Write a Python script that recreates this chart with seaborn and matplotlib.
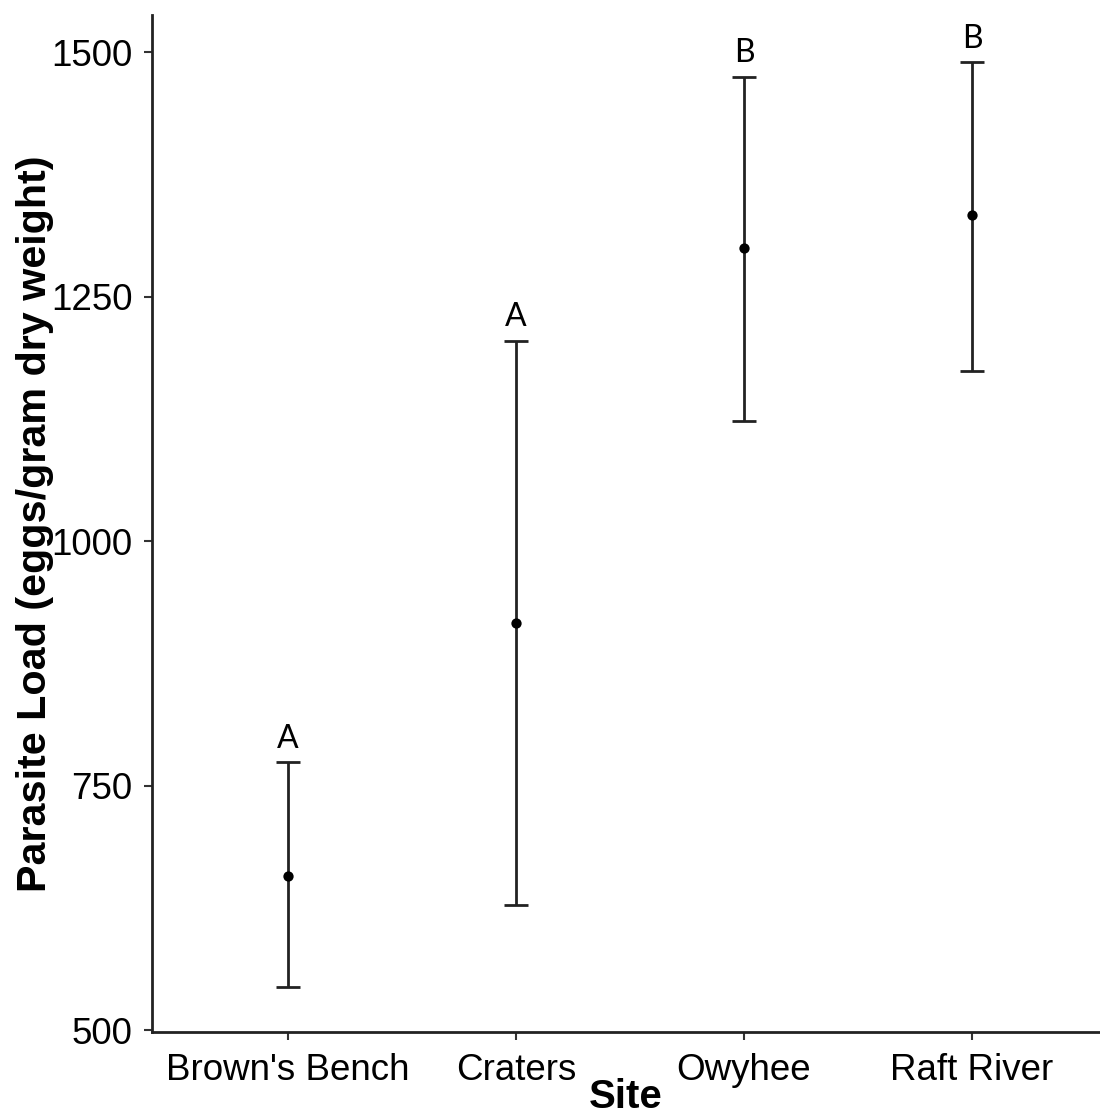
import matplotlib
matplotlib.use("Agg")
import matplotlib.pyplot as plt
import seaborn as sns
import pandas as pd

# Mean parasite load per site with confidence bounds and group letters
sites = ["Brown's Bench", "Craters", "Owyhee", "Raft River"]
mean_load = [658, 916, 1300, 1333]
lower_bound = [544, 628, 1123, 1174]
upper_bound = [774, 1205, 1475, 1490]
group_letters = ["A", "A", "B", "B"]

df = pd.DataFrame({
    "Site": sites,
    "mean": mean_load,
    "lo": lower_bound,
    "hi": upper_bound,
    "letter": group_letters,
})
df["pos"] = range(len(df))

sns.set_theme(style="white")
plt.rcParams["font.family"] = ["Liberation Sans", "DejaVu Sans"]
plt.rcParams["text.color"] = "black"
plt.rcParams["axes.labelcolor"] = "black"

fig = plt.figure(figsize=(11, 11.16), dpi=100)
ax = fig.add_axes([152 / 1100, 84 / 1116, (1100 - 152) / 1100, (1032 - 15) / 1116])

ax.errorbar(
    df["pos"], df["mean"],
    yerr=[df["mean"] - df["lo"], df["hi"] - df["mean"]],
    fmt="none", ecolor="#222222", elinewidth=2.0, capsize=8.3, capthick=2.0,
    zorder=2,
)
sns.scatterplot(data=df, x="pos", y="mean", color="black", s=55,
                edgecolor="black", linewidth=0, ax=ax, zorder=3, legend=False)

for _, r in df.iterrows():
    ax.annotate(r["letter"], (r["pos"], r["hi"]), xytext=(0, 6),
                textcoords="offset points", ha="center", va="bottom",
                fontsize=23, family=["Lato", "DejaVu Sans"], color="black")

ax.set_xlim(-0.596, 3.561)
ax.set_ylim(498, 1538)
ax.set_xticks(df["pos"])
ax.set_xticklabels(sites)
ax.set_yticks([500, 750, 1000, 1250, 1500])

ax.set_xlabel("Site", fontsize=29, fontweight="bold", labelpad=-7)
ax.set_ylabel("Parasite Load (eggs/gram dry weight)", fontsize=29.7,
              fontweight="bold", labelpad=-2)

ax.tick_params(axis="both", labelsize=26.5, colors="#333333", labelcolor="black",
               length=6, width=1.5, direction="out", left=True, bottom=True)
ax.tick_params(axis="x", pad=9)
ax.tick_params(axis="y", pad=8)

for side in ["top", "right"]:
    ax.spines[side].set_visible(False)
for side in ["left", "bottom"]:
    ax.spines[side].set_color("#222222")
    ax.spines[side].set_linewidth(2.0)

fig.savefig("out.png", dpi=100)
